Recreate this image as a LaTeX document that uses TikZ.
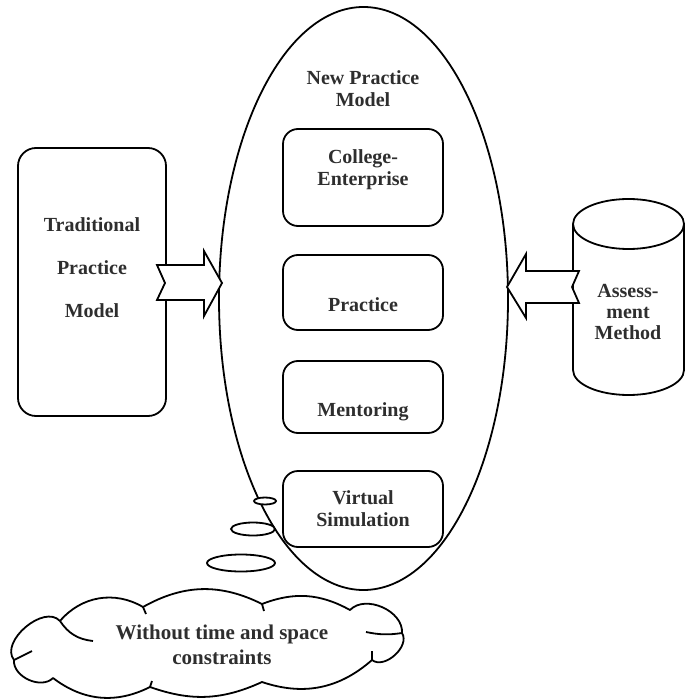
\documentclass[tikz,border=0pt]{standalone}
\usepackage{fontspec}
\setmainfont{Liberation Serif}
\usetikzlibrary{shapes.geometric}
\definecolor{txtgray}{gray}{0.18}
\begin{document}
\begin{tikzpicture}[x=0.5pt, y=-0.5pt,
    	line width=0.9pt,
    	lbl/.style={text=txtgray, font=\fontsize{10}{11}\selectfont\bfseries, align=center, inner sep=0pt},
    	inbox/.style={draw, rounded corners=7.5pt, minimum width=80pt, inner sep=0pt},
    	blockarrow/.style={draw, fill=white, line join=miter},
    	bubble/.style={draw, fill=white}]
    	\useasboundingbox (0,0) rectangle (688,699);
    	% traditional model
    	\node[draw, rounded corners=9pt, minimum width=74pt, minimum height=134pt] (trad) at (92,282) {};
    	\node[lbl] (tradtxt) at (92,268) {Traditional\\[10.5pt]Practice\\[10.5pt]Model};
    	% new practice model
    	\node[draw, ellipse, minimum width=144.5pt, minimum height=291.5pt, inner sep=0pt] (npm) at (363.5,298.5) {};
    	\node[lbl] (npmtxt) at (363,89) {New Practice\\Model};
    	\node[inbox, minimum height=48.5pt] (ce) at (363,177.5) {};
    	\node[lbl] (cetxt) at (363,170) {College-\\Enterprise};
    	\node[inbox, minimum height=37.5pt] (prac) at (363,292.5) {};
    	\node[lbl] (practxt) at (363,305) {Practice};
    	\node[inbox, minimum height=36pt] (ment) at (363,397) {};
    	\node[lbl] (menttxt) at (363,412) {Mentoring};
    	\node[inbox, minimum height=38pt] (vs) at (363,509) {};
    	\node[lbl] (vstxt) at (363,509) {Virtual\\Simulation};
    	% assessment cylinder
    	\draw (573,224) -- (573,370) arc (180:0:55.5 and 25) -- (684,224);
    	\draw (628.5,224) ellipse (55.5 and 25);
    	\node[lbl, font=\fontsize{10}{10.3}\selectfont\bfseries] (assess) at (628,312) {Assess-\\ment\\Method};
    	% block arrows
    	\draw[blockarrow] (157,265) -- (204,265) -- (204,251) -- (222,283) -- (204,316)
    		-- (204,300) -- (157,300) -- (165,283) -- cycle;
    	\draw[blockarrow] (507,287) -- (526,254) -- (526,271) -- (579,271) -- (572,287)
    		-- (579,303) -- (526,303) -- (526,318) -- cycle;
    	% thought bubbles
    	\draw[bubble] (265,501) ellipse (11 and 3.5);
    	\draw[bubble] (253,529) ellipse (22 and 6.5);
    	\draw[bubble] (241,563) ellipse (34 and 8.5);
    	% cloud
    	\coordinate (ca) at (60,621);
    	\coordinate (cb) at (143,607);
    	\coordinate (cc) at (262,604);
    	\coordinate (cd) at (350,610);
    	\coordinate (ce) at (402,633);
    	\coordinate (cf) at (372,660);
    	\coordinate (cg) at (262,682);
    	\coordinate (ch) at (150,687);
    	\coordinate (ci) at (53,678);
    	\coordinate (cj) at (14,660);
    	\draw[line join=round] (ca) to[bend left=40] (cb) to[bend left=28] (cc) to[bend left=25] (cd)
    		to[bend left=70] (ce) to[bend left=80] (cf) to[bend left=30] (cg) to[bend left=22] (ch)
    		to[bend left=32] (ci) to[bend left=70] (cj) to[bend left=88] (ca) -- cycle;
    	% inner strokes of the cloud
    	\draw (ca) to[bend right=25] (93,641);
    	\draw (cj) -- (32,651);
    	\draw (ce) to[bend left=10] (366,632);
    	\draw (cf) -- (372,651);
    	\draw (cb) -- (146,614);
    	\draw (cc) -- (264,611);
    	\draw (ch) -- (152,681);
    	\node[lbl, font=\fontsize{10.5}{12.5}\selectfont\bfseries] (cloudtxt) at (222,644.5) {Without time and space\\constraints};
\end{tikzpicture}
\end{document}
